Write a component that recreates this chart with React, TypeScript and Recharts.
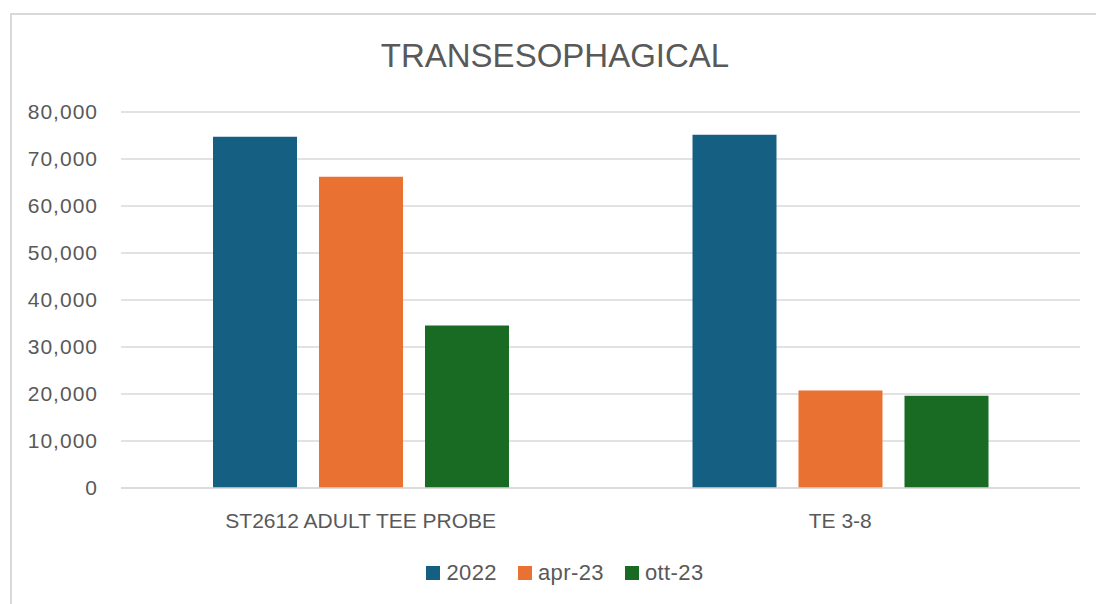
import React from "react";
import { BarChart, Bar, XAxis, YAxis, CartesianGrid, Legend } from "recharts";

const categories = ["ST2612 ADULT TEE PROBE", "TE 3-8"];
const values2022 = [74750, 75150];
const valuesApr23 = [66200, 20750];
const valuesOtt23 = [34600, 19650];
const yTicks = [0, 10000, 20000, 30000, 40000, 50000, 60000, 70000, 80000];

const chartData = categories.map((name, i) => ({
  name,
  y2022: values2022[i],
  apr23: valuesApr23[i],
  ott23: valuesOtt23[i],
}));

const FONT = '"Liberation Sans", Arial, sans-serif';
const TEXT = "#595959";
const GRID = "#d9d9d9";

const LegendContent = ({ payload }: { payload?: any[] }) => (
  <div
    style={{
      display: "flex",
      justifyContent: "center",
      alignItems: "center",
      height: 24,
      position: "relative",
      left: 25,
      fontFamily: FONT,
      fontSize: 22,
      letterSpacing: 0.4,
      color: TEXT,
    }}
  >
    {(payload || []).map((entry: any, i: number) => (
      <div
        key={i}
        style={{ display: "flex", alignItems: "center", marginLeft: i === 0 ? 0 : 21, lineHeight: "24px" }}
      >
        <span style={{ width: 14, height: 14, background: entry.color, marginRight: 6, display: "inline-block" }} />
        <span>{entry.value}</span>
      </div>
    ))}
  </div>
);

export default function App() {
  return (
    <div style={{ position: "absolute", left: 0, top: 0, width: 1096, height: 604, background: "#fff", overflow: "hidden" }}>
      <div
        style={{
          position: "absolute",
          left: 10,
          top: 13,
          width: 1200,
          height: 700,
          borderLeft: `2px solid ${GRID}`,
          borderTop: `2px solid ${GRID}`,
        }}
      />
      <div
        style={{
          position: "absolute",
          left: 0,
          top: 39.4,
          width: 1110,
          textAlign: "center",
          fontFamily: FONT,
          fontSize: 33,
          lineHeight: 1,
          color: TEXT,
        }}
      >
        TRANSESOPHAGICAL
      </div>
      <div style={{ position: "absolute", left: 0, top: 0 }}>
        <BarChart
          width={1096}
          height={604}
          data={chartData}
          margin={{ top: 112, right: 16, bottom: 19, left: 0 }}
          barSize={84}
          barGap={22}
        >
          <CartesianGrid vertical={false} stroke={GRID} strokeWidth={1.5} />
          <XAxis
            dataKey="name"
            height={73}
            tickLine={false}
            axisLine={{ stroke: GRID, strokeWidth: 1.5 }}
            tickMargin={19}
            tick={{ fill: TEXT, fontSize: 21, fontFamily: FONT }}
          />
          <YAxis
            width={121}
            domain={[0, 80000]}
            ticks={yTicks}
            tickLine={false}
            axisLine={false}
            tickMargin={17}
            tickFormatter={(v: number) => v.toLocaleString("en-US")}
            tick={{ fill: TEXT, fontSize: 21, fontFamily: FONT, letterSpacing: 1 }}
          />
          <Legend verticalAlign="bottom" content={<LegendContent />} />
          <Bar dataKey="y2022" name="2022" fill="#156082" isAnimationActive={false} />
          <Bar dataKey="apr23" name="apr-23" fill="#E97132" isAnimationActive={false} />
          <Bar dataKey="ott23" name="ott-23" fill="#196B24" isAnimationActive={false} />
        </BarChart>
      </div>
    </div>
  );
}
